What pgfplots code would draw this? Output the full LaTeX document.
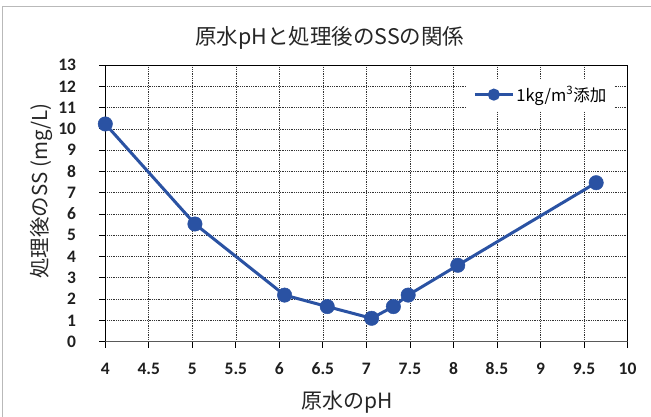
\documentclass[border=0pt]{standalone}
\usepackage{fontspec}
\setmainfont{Noto Sans CJK JP}
\newfontfamily\calibri{Carlito}[BoldFont={Carlito Bold}]
\usepackage{pgfplots}
\pgfplotsset{compat=1.18}
\definecolor{sblue}{HTML}{2A52A3}
\definecolor{axgray}{HTML}{595959}
\begin{document}
\begin{tikzpicture}[x=1pt,y=1pt]
\useasboundingbox (0,0) rectangle (651,416);
\fill[white] (0,0) rectangle (651,416);
\draw[gray!55, line width=1.2pt] (2.5,409.5) rectangle (720,-60);
\begin{axis}[
  at={(105.3pt,74.3pt)}, anchor=south west,
  scale only axis, width=522.2pt, height=276.7pt,
  xmin=4, xmax=10, ymin=0, ymax=13,
  xtick={4,4.5,5,5.5,6,6.5,7,7.5,8,8.5,9,9.5,10},
  xticklabels={4,4.5,5,5.5,6,6.5,7,7.5,8,8.5,9,9.5,10},
  ytick={0,1,2,3,4,5,6,7,8,9,10,11,12,13},
  yticklabels={0,1,2,3,4,5,6,7,8,9,10,11,12,13},
  tick align=outside, major tick length=6pt,
  tick style={black, line width=0.8pt},
  xtick pos=bottom, ytick pos=left,
  ticklabel style={font=\calibri\bfseries\fontsize{17.5}{17.5}\selectfont, text=black!88, inner sep=0pt},
  xticklabel style={anchor=north, yshift=-15pt},
  yticklabel style={anchor=east, xshift=-23pt},
  grid=major,
  major grid style={black!80, line width=0.7pt, dash pattern=on 0.9pt off 0.9pt},
  axis line style={black, line width=1pt},
  title={原水pHと処理後のSSの関係},
  title style={at={(axis description cs:0.43,1)}, yshift=21pt, anchor=center, font=\fontsize{21.5}{21.5}\selectfont, text=black!85},
  xlabel={原水のpH},
  xlabel style={at={(axis description cs:0.463,0)}, yshift=-60pt, anchor=center, font=\fontsize{21}{21}\selectfont, text=black!85},
  ylabel={処理後のSS (mg/L)},
  ylabel style={at={(axis description cs:-0.1231,0.545)}, anchor=center, font=\fontsize{20.5}{20.5}\selectfont, text=black!85},
  legend style={at={(axis description cs:0.834,0.893)}, anchor=center, draw=none, fill=white, font=\fontsize{16.5}{16.5}\selectfont, inner xsep=6pt, inner ysep=6pt},
  legend cell align=left,
  legend image code/.code={
    \draw[sblue, line width=3pt] (0pt,0pt) -- (38pt,0pt);
    \fill[sblue] (19pt,0pt) circle (4.5pt);
  },
]
\addplot[sblue, line width=3pt, mark=*, mark size=7.2pt, mark options={fill=sblue, draw=sblue, line width=0.5pt}]
coordinates {
(4.00,10.23)
(5.03,5.53)
(6.06,2.19)
(6.55,1.65)
(7.06,1.10)
(7.31,1.65)
(7.48,2.19)
(8.05,3.59)
(9.64,7.47)
};
\addlegendentry{1kg/m\textsuperscript{3}添加}
\draw[axgray, line width=1.8pt] (rel axis cs:0,0) -- (rel axis cs:1,0);
\end{axis}
\end{tikzpicture}
\end{document}
